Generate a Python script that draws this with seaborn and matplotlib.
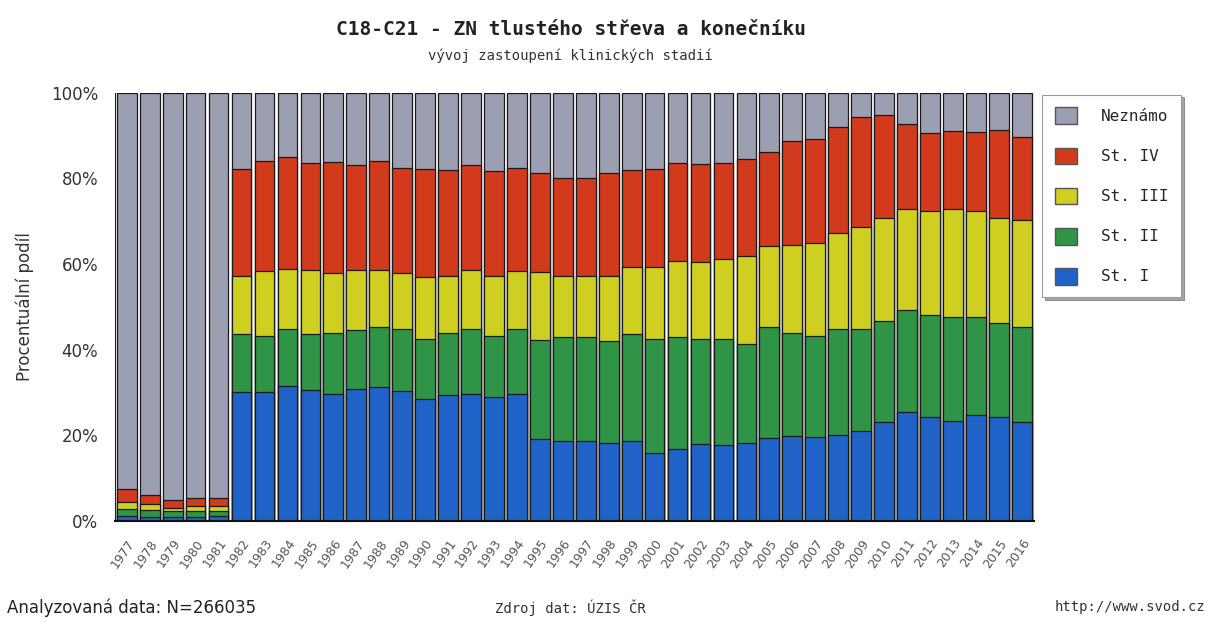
import numpy as np
import pandas as pd
import seaborn as sns
from matplotlib import pyplot as plt
from matplotlib.patches import Patch

years = [str(y) for y in range(1977, 2017)]

st_1 = [1.2, 1.0, 1.0, 0.8, 1.2,
        30.0, 30.0, 31.6, 30.5, 29.6, 30.8, 31.2, 30.4, 28.5, 29.3,
        29.6, 28.9, 29.6, 19.1, 18.6, 18.6, 18.1, 18.6, 15.8, 16.8,
        17.9, 17.8, 18.3, 19.3, 19.9, 19.5, 20.1, 21.1, 23.0, 25.4,
        24.3, 23.4, 24.8, 24.3, 23.0]
st_2 = [1.5, 1.5, 1.2, 1.5, 1.2,
        13.7, 13.3, 13.3, 13.2, 14.2, 13.8, 14.2, 14.5, 14.0, 14.5,
        15.3, 14.4, 15.3, 23.2, 24.3, 24.3, 24.0, 25.1, 26.7, 26.1,
        24.6, 24.7, 23.0, 25.9, 23.9, 23.6, 24.8, 23.8, 23.8, 23.9,
        23.7, 24.3, 22.9, 21.9, 22.2]
st_3 = [1.8, 1.5, 0.8, 1.2, 1.0,
        13.6, 15.0, 14.0, 14.8, 14.1, 13.9, 13.1, 13.0, 14.4, 13.5,
        13.6, 14.0, 13.4, 15.8, 14.4, 14.4, 15.2, 15.6, 16.8, 17.9,
        18.0, 18.7, 20.5, 19.0, 20.6, 21.8, 22.3, 23.7, 24.0, 23.6,
        24.5, 25.2, 24.7, 24.6, 25.2]
st_4 = [3.0, 2.0, 1.8, 1.8, 2.0,
        24.8, 25.7, 26.0, 25.0, 26.0, 24.6, 25.5, 24.6, 25.2, 24.6,
        24.6, 24.4, 24.2, 23.2, 22.7, 22.9, 24.0, 22.6, 22.8, 22.7,
        22.8, 22.3, 22.7, 22.0, 24.3, 24.4, 24.7, 25.8, 24.0, 19.8,
        18.0, 18.2, 18.5, 20.5, 19.2]

labels = ["St. I", "St. II", "St. III", "St. IV", "Neznámo"]
colors = ["#1f63c9", "#2f9446", "#cfcf22", "#d23a1c", "#9c9eb2"]

df = pd.DataFrame({"rok": years, "St. I": st_1, "St. II": st_2,
                   "St. III": st_3, "St. IV": st_4})
df["St. IV cum"] = df[["St. I", "St. II", "St. III", "St. IV"]].sum(axis=1)
df["St. III cum"] = df[["St. I", "St. II", "St. III"]].sum(axis=1)
df["St. II cum"] = df[["St. I", "St. II"]].sum(axis=1)
df["St. I cum"] = df["St. I"]
df["Neznámo cum"] = 100.0

sns.set_style("white")
plt.rcParams["font.family"] = ["DejaVu Sans"]

fig = plt.figure(figsize=(12.09, 6.23), dpi=100)
ax = fig.add_axes([0.095, 0.164, 0.76, 0.687])

# cumulative layers, from top to bottom, so the lower ones cover the upper
for lab, col in zip(labels[::-1], colors[::-1]):
    sns.barplot(data=df, x="rok", y=lab + " cum", color=col, width=0.86,
                edgecolor="#1a1a1a", linewidth=0.9, saturation=1, ax=ax)

ax.set_xlim(-0.52, 39.52)
ax.set_ylim(0, 100)
ax.set_yticks(range(0, 101, 20))
ax.set_yticklabels([f"{v}%" for v in range(0, 101, 20)], fontsize=12, color="#333333")
ax.set_yticks(range(10, 100, 20), minor=True)
ax.tick_params(axis="y", which="both", direction="in", length=5, color="#222222", pad=12)
ax.tick_params(axis="x", direction="out", length=8, color="#b07030", width=1)
ax.set_xticks(range(len(years)))
ax.set_xticklabels(years, rotation=55, ha="right", rotation_mode="anchor",
                   fontsize=9, color="#555555")
ax.set_xlabel("")
ax.set_ylabel("Procentuální podíl", fontsize=12, color="#333333", labelpad=12)
for s in ["top", "right"]:
    ax.spines[s].set_visible(False)
ax.spines["left"].set_color("#222222")
ax.spines["bottom"].set_color("#111111")
ax.spines["bottom"].set_linewidth(1.5)

fig.text(0.472, 0.953, "C18-C21 - ZN tlustého střeva a konečníku",
         ha="center", va="center", fontsize=14, fontweight="bold",
         family="DejaVu Sans Mono", color="#222222")
fig.text(0.472, 0.911, "vývoj zastoupení klinických stadií",
         ha="center", va="center", fontsize=10, family="DejaVu Sans Mono",
         color="#333333")

handles = [Patch(facecolor=c, edgecolor="#555555", label=l)
           for l, c in zip(labels[::-1], colors[::-1])]
leg = fig.legend(handles=handles, loc="upper left", bbox_to_anchor=(0.862, 0.848),
                 frameon=True, shadow=True, fancybox=False,
                 prop={"family": "DejaVu Sans Mono", "size": 11.5},
                 labelspacing=1.45, handlelength=1.4, handleheight=1.25,
                 handletextpad=1.5, borderpad=0.8, borderaxespad=0)
leg.get_frame().set_edgecolor("#999999")
leg.get_frame().set_linewidth(0.8)

fig.text(0.006, 0.025, "Analyzovaná data: N=266035", ha="left", va="center",
         fontsize=12, color="#222222")
fig.text(0.472, 0.025, "Zdroj dat: ÚZIS ČR", ha="center", va="center",
         fontsize=10, family="DejaVu Sans Mono", color="#333333")
fig.text(0.997, 0.025, "http://www.svod.cz", ha="right", va="center",
         fontsize=10, family="DejaVu Sans Mono", color="#333333")

fig.savefig("out.png", dpi=100)
